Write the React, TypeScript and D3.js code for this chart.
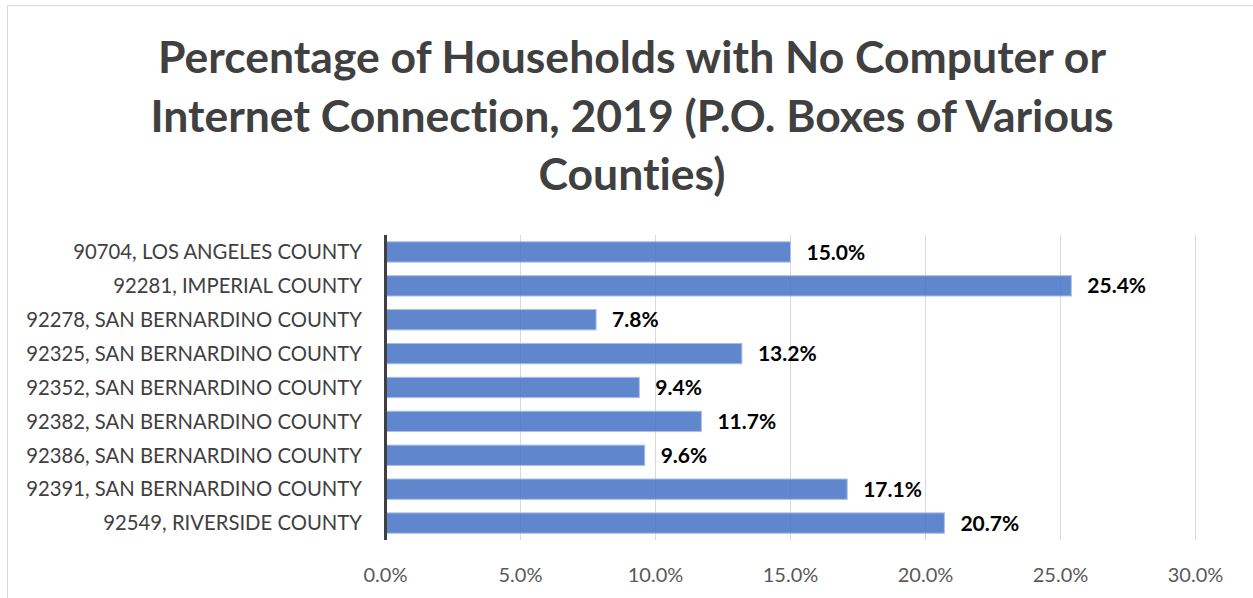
import React from "react";
import * as d3 from "d3";

const categories = [
  "90704, LOS ANGELES COUNTY",
  "92281, IMPERIAL COUNTY",
  "92278, SAN BERNARDINO COUNTY",
  "92325, SAN BERNARDINO COUNTY",
  "92352, SAN BERNARDINO COUNTY",
  "92382, SAN BERNARDINO COUNTY",
  "92386, SAN BERNARDINO COUNTY",
  "92391, SAN BERNARDINO COUNTY",
  "92549, RIVERSIDE COUNTY",
];
const values = [0.15, 0.254, 0.078, 0.132, 0.094, 0.117, 0.096, 0.171, 0.207];
const xTicks = [0, 0.05, 0.1, 0.15, 0.2, 0.25, 0.3];
const titleLines = [
  "Percentage of Households with No Computer or",
  "Internet Connection, 2019 (P.O. Boxes of Various",
  "Counties)",
];

const W = 1253;
const H = 598;
const FONT = "Lato, 'Open Sans', sans-serif";
const margin = { top: 235, right: 57.5, bottom: 58, left: 385.5 };

export default function App() {
  const x = d3.scaleLinear().domain([0, 0.3]).range([margin.left, W - margin.right]);
  const y = d3
    .scaleBand<string>()
    .domain(categories)
    .range([margin.top, H - margin.bottom])
    .paddingInner(0.4)
    .paddingOuter(0.2);
  const fmt = d3.format(".1%");

  return (
    <svg
      width={W}
      height={H}
      style={{ position: "absolute", left: 0, top: 0, fontVariantLigatures: "none" }}
    >
      <style>{`body{margin:0}`}</style>
      <rect x={0} y={0} width={W} height={H} fill="#fff" />
      {/* chart area border */}
      <rect x={7.5} y={5.5} width={W + 10} height={H + 10} fill="none" stroke="#d9d9d9" />

      {/* title */}
      <g fontFamily={FONT} fontWeight="bold" fontSize={44.5} fill="#404040" textAnchor="middle">
        {titleLines.map((t, i) => (
          <text key={i} x={632} y={73 + i * 58.5}>
            {t}
          </text>
        ))}
      </g>

      {/* gridlines */}
      {xTicks.slice(1).map((t) => (
        <line
          key={t}
          x1={x(t)}
          x2={x(t)}
          y1={margin.top}
          y2={H - margin.bottom}
          stroke="#d9d9d9"
          strokeWidth={1}
        />
      ))}

      {/* bars */}
      {categories.map((c, i) => (
        <rect
          key={c}
          x={x(0)}
          y={y(c)}
          width={x(values[i]) - x(0)}
          height={y.bandwidth()}
          fill="#4472c4"
          fillOpacity={0.85}
          stroke="#a9bfe6"
          strokeWidth={1}
        />
      ))}

      {/* value labels */}
      <g fontFamily={FONT} fontWeight="bold" fontSize={21} fill="#000">
        {categories.map((c, i) => (
          <text key={c} x={x(values[i]) + 16} y={(y(c) as number) + y.bandwidth() / 2} dy="0.36em">
            {fmt(values[i])}
          </text>
        ))}
      </g>

      {/* category labels */}
      <g fontFamily={FONT} fontSize={20.3} fill="#404040" textAnchor="end">
        {categories.map((c) => (
          <text key={c} x={362} y={(y(c) as number) + y.bandwidth() / 2} dy="0.36em">
            {c}
          </text>
        ))}
      </g>

      {/* axis line */}
      <line
        x1={x(0)}
        x2={x(0)}
        y1={margin.top}
        y2={H - margin.bottom}
        stroke="#404040"
        strokeWidth={3}
      />

      {/* x tick labels */}
      <g fontFamily={FONT} fontSize={20} fill="#595959" textAnchor="middle">
        {xTicks.map((t) => (
          <text key={t} x={x(t)} y={582}>
            {fmt(t)}
          </text>
        ))}
      </g>
    </svg>
  );
}
